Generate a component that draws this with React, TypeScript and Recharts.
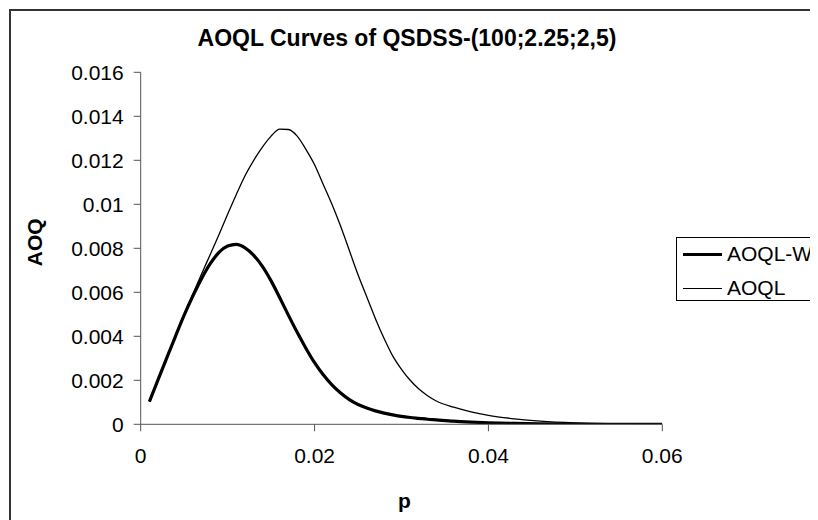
import React from "react";
import { LineChart, Line, XAxis, YAxis } from "recharts";

const pValues = [
  0.001, 0.002, 0.003, 0.004, 0.005, 0.006, 0.007, 0.008, 0.009, 0.01,
  0.011, 0.012, 0.013, 0.014, 0.015, 0.016, 0.017, 0.018, 0.019, 0.02,
  0.021, 0.022, 0.023, 0.024, 0.025, 0.026, 0.027, 0.028, 0.029, 0.03,
  0.031, 0.032, 0.033, 0.034, 0.036, 0.038, 0.04, 0.043, 0.046, 0.05,
  0.055, 0.06,
];

const aoqlW = [
  0.00103, 0.00203, 0.00302, 0.004, 0.00496, 0.00583, 0.00662, 0.0073, 0.00781, 0.0081,
  0.00818, 0.00802, 0.00768, 0.00718, 0.00652, 0.00575, 0.00495, 0.00418, 0.00346, 0.0028,
  0.00225, 0.00179, 0.00142, 0.00112, 0.0009, 0.00074, 0.00061, 0.00051, 0.00043, 0.00036,
  0.00031, 0.00027, 0.00023, 0.0002, 0.00014, 0.0001, 0.00007, 0.00004, 0.00002, 0.00001,
  0.0, 0.0,
];

const aoql = [
  0.00103, 0.00203, 0.00302, 0.004, 0.00498, 0.00592, 0.00683, 0.00772, 0.00862, 0.00955,
  0.01045, 0.0113, 0.012, 0.0126, 0.0131, 0.01342, 0.0134, 0.0131, 0.0125, 0.0118,
  0.0109, 0.01, 0.009, 0.0079, 0.0068, 0.0058, 0.0048, 0.0039, 0.0031, 0.0025,
  0.002, 0.0016, 0.0013, 0.00106, 0.00078, 0.00057, 0.00041, 0.00025, 0.00014, 0.00006,
  0.00002, 0.0,
];

const xTicks = [0, 0.02, 0.04, 0.06];
const yTicks = [0, 0.002, 0.004, 0.006, 0.008, 0.01, 0.012, 0.014, 0.016];

const seriesNames = ["AOQL-W", "AOQL"];
const titleText = "AOQL Curves of QSDSS-(100;2.25;2,5)";
const xLabel = "p";
const yLabel = "AOQ";

const data = pValues.map((p, i) => ({ p, w: aoqlW[i], a: aoql[i] }));

const FONT = "'Liberation Sans', Arial, sans-serif";

export default function App() {
  const W = 810;
  const H = 512;
  return (
    <div style={{ position: "relative", width: W, height: H, overflow: "hidden", fontFamily: FONT }}>
      <div
        style={{
          position: "absolute",
          left: 1,
          top: 1,
          width: 1000,
          height: 800,
          border: "2px solid #333",
          boxSizing: "border-box",
        }}
      />
      <div
        style={{
          position: "absolute",
          left: 0,
          top: 15,
          width: 798,
          textAlign: "center",
          fontWeight: "bold",
          fontSize: 23,
          lineHeight: "30px",
          color: "#000",
        }}
      >
        {titleText}
      </div>
      <div style={{ position: "absolute", left: 0, top: 0 }}>
        <LineChart
          width={W}
          height={H}
          data={data}
          margin={{ top: 64.3, right: 155.7, bottom: 55.7, left: 72.7 }}
        >
          <XAxis
            dataKey="p"
            type="number"
            domain={[0, 0.06]}
            ticks={xTicks}
            height={40}
            stroke="#555"
            tickSize={7}
            tickMargin={17}
            tick={{ fill: "#000", fontSize: 21, fontFamily: FONT }}
            tickLine={{ stroke: "#555" }}
            interval={0}
            allowDataOverflow
            label={{
              content: (props: any) => {
                const vb = props.viewBox || {};
                return (
                  <text
                    x={vb.x + vb.width / 2 + 3}
                    y={vb.y + 76}
                    textAnchor="middle"
                    dominantBaseline="central"
                    fontWeight="bold"
                    fontSize={21}
                    fontFamily={FONT}
                    fill="#000"
                  >
                    {xLabel}
                  </text>
                );
              },
            }}
          />
          <YAxis
            type="number"
            domain={[0, 0.016]}
            ticks={yTicks}
            width={60}
            stroke="#555"
            tickSize={7}
            tickMargin={10}
            tick={{ fill: "#000", fontSize: 21, fontFamily: FONT }}
            tickLine={{ stroke: "#555" }}
            interval={0}
            allowDataOverflow
            label={{
              content: (props: any) => {
                const vb = props.viewBox || {};
                const cx = vb.x - 45.7;
                const cy = vb.y + vb.height / 2 - 6;
                return (
                  <text
                    x={cx}
                    y={cy}
                    transform={`rotate(-90 ${cx} ${cy})`}
                    textAnchor="middle"
                    dominantBaseline="central"
                    fontWeight="bold"
                    fontSize={21}
                    fontFamily={FONT}
                    fill="#000"
                  >
                    {yLabel}
                  </text>
                );
              },
            }}
          />
          <Line
            dataKey="a"
            name={seriesNames[1]}
            type="monotone"
            stroke="#000"
            strokeWidth={1.3}
            dot={false}
            isAnimationActive={false}
          />
          <Line
            dataKey="w"
            name={seriesNames[0]}
            type="monotone"
            stroke="#000"
            strokeWidth={3.2}
            dot={false}
            isAnimationActive={false}
          />
        </LineChart>
      </div>
      <div
        style={{
          position: "absolute",
          left: 668,
          top: 229,
          width: 200,
          height: 64,
          border: "1px solid #000",
          boxSizing: "border-box",
          background: "#fff",
        }}
      >
        {seriesNames.map((name, i) => (
          <div
            key={name}
            style={{
              position: "absolute",
              left: 0,
              top: i === 0 ? 1 : 35,
              height: 30,
              display: "flex",
              alignItems: "center",
              whiteSpace: "nowrap",
            }}
          >
            <div
              style={{
                marginLeft: 6,
                width: 39,
                height: i === 0 ? 3 : 1,
                background: "#000",
              }}
            />
            <span style={{ marginLeft: 5, fontSize: 21, color: "#000", lineHeight: "30px" }}>{name}</span>
          </div>
        ))}
      </div>
    </div>
  );
}
